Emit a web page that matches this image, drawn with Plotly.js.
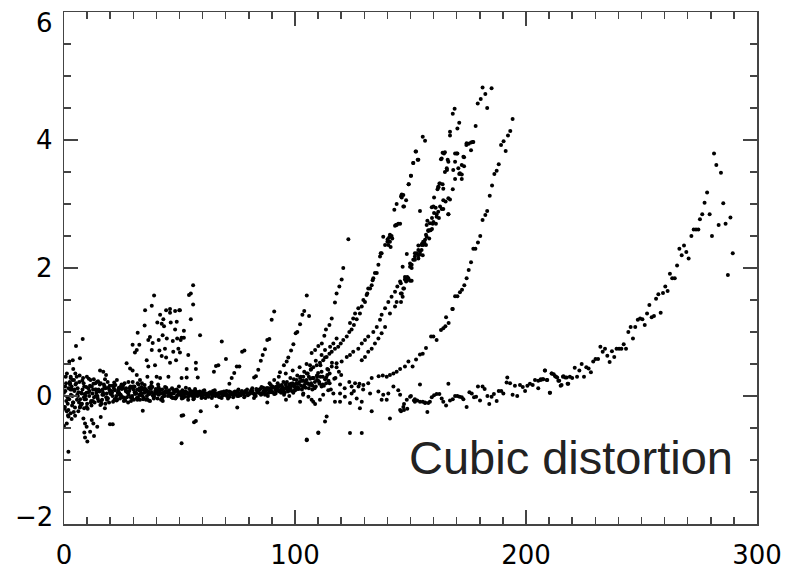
<!DOCTYPE html>
<html>
<head>
<meta charset="utf-8">
<script src="https://cdn.plot.ly/plotly-3.0.1.min.js"></script>
<style>html,body{margin:0;padding:0;background:#fff;}#chart{width:789px;height:573px;}</style>
</head>
<body>
<div id="chart"></div>
<script>
// ---------- data ----------
const xTickVals = [0, 100, 200, 300];
const yTickVals = [-2, 0, 2, 4, 6];
const yTickText = ["\u22122", "0", "2", "4", "6"];
const annotationText = "Cubic distortion";

// dense band near zero, several rows
const bandX1 = [0,1,2,3,4,5,6,7,8,9,10,11,12,13,14,15,16,17,18,19,20,21,22,23,24,25,26,27,28,29,30,31,32,33,34,35,36,37,38,39,40,41,42,43,44,45,46,47,48,49,50,51,52,53,54,55,56,57,58,59,60,61,62,63,64,65,66,67,68,69,70,71,72,73,74,75,76,77,78,79,80,81,82,83,84,85,86,87,88,89,90,91,92,93,94,95,96,97,98,99,100,101,102,103,104,105,106,107,108,109,110,111,112,113,114,115];
const bandY1 = [0.05,-0.08,0.12,0.02,-0.1,0.18,0.0,-0.05,0.1,0.03,-0.12,0.08,0.15,-0.02,0.05,0.1,-0.08,0.02,0.12,-0.04,0.06,
0.0,0.09,-0.06,0.04,0.11,-0.03,0.07,0.02,-0.08,0.1,0.05,-0.02,0.08,0.0,0.12,-0.05,0.03,0.06,-0.01,0.09,
0.02,-0.06,0.05,0.08,0.0,0.04,-0.03,0.07,0.01,0.05,-0.04,0.03,0.06,0.0,0.02,-0.05,0.04,0.01,0.06,-0.02,
0.03,0.0,0.05,-0.03,0.02,0.04,-0.01,0.06,0.01,0.03,-0.04,0.05,0.02,0.07,0.0,0.04,0.08,-0.02,0.05,0.03,
0.09,0.04,0.0,0.07,0.11,0.05,0.02,0.1,0.06,0.13,0.03,0.08,0.15,0.05,0.1,0.18,0.07,0.12,0.2,0.09,
0.14,0.22,0.1,0.17,0.25,0.12,0.2,0.28,0.15,0.24,0.3,0.18,0.26,0.33,0.2];
const bandX2 = [0.5,1.5,2.5,3.5,4.5,5.5,6.5,7.5,8.5,9.5,10.5,11.5,12.5,13.5,14.5,15.5,16.5,17.5,18.5,19.5,20.5,21.5,22.5,23.5,24.5,25.5,26.5,27.5,28.5,29.5,30.5,31.5,32.5,33.5,34.5,35.5,36.5,37.5,38.5,39.5,40.5,41.5,42.5,43.5,44.5,45.5,46.5,47.5,48.5,49.5,50.5,51.5,52.5,53.5,54.5,55.5,56.5,57.5,58.5,59.5,60.5,61.5,62.5,63.5,64.5,65.5,66.5,67.5,68.5,69.5,70.5,71.5,72.5,73.5,74.5,75.5,76.5,77.5,78.5,79.5,80.5,81.5,82.5,83.5,84.5,85.5,86.5,87.5,88.5,89.5,90.5,91.5,92.5,93.5,94.5,95.5,96.5,97.5,98.5,99.5,100.5,101.5,102.5,103.5,104.5,105.5,106.5,107.5,108.5,109.5,110.5,111.5,112.5,113.5,114.5];
const bandY2 = [0.15,-0.02,0.22,-0.15,0.08,0.3,-0.1,0.05,0.2,-0.05,0.12,0.25,-0.08,0.1,0.0,0.18,-0.06,0.14,0.04,-0.1,
0.08,0.16,-0.04,0.1,0.02,0.14,-0.07,0.06,0.12,0.0,0.15,-0.03,0.09,0.04,0.11,-0.06,0.07,0.13,0.01,0.08,
-0.04,0.06,0.1,0.0,0.05,0.09,-0.02,0.04,0.08,0.02,0.06,-0.03,0.07,0.03,0.05,0.0,0.08,0.02,0.04,-0.03,
0.06,0.02,0.0,0.05,0.08,0.01,0.04,-0.02,0.06,0.03,0.0,0.07,0.04,0.02,0.06,0.1,0.01,0.05,0.08,0.03,
0.06,0.12,0.02,0.09,0.05,0.14,0.08,0.03,0.12,0.17,0.06,0.1,0.2,0.08,0.14,0.06,0.22,0.12,0.16,0.26,
0.1,0.19,0.3,0.14,0.22,0.35,0.17,0.28,0.12,0.32,0.22,0.38,0.16,0.29,0.24];
const bandX3 = [0.25,1.25,2.25,3.25,4.25,5.25,6.25,7.25,8.25,9.25,10.25,11.25,12.25,13.25,14.25,15.25,16.25,17.25,18.25,19.25,20.25,21.25,22.25,23.25,24.25,25.25,26.25,27.25,28.25,29.25,30.25,31.25,32.25,33.25,34.25,35.25,36.25,37.25,38.25,39.25,40.25,41.25,42.25,43.25,44.25,45.25,46.25,47.25,48.25,49.25,50.25,51.25,52.25,53.25,54.25,55.25,56.25,57.25,58.25,59.25,60.25,61.25,62.25,63.25,64.25,65.25,66.25,67.25,68.25,69.25,70.25,71.25,72.25,73.25,74.25,75.25,76.25,77.25,78.25,79.25,80.25,81.25,82.25,83.25,84.25,85.25,86.25,87.25,88.25,89.25,90.25,91.25,92.25,93.25,94.25,95.25,96.25,97.25,98.25,99.25,100.25];
const bandY3 = [-0.2,0.35,-0.05,0.1,-0.25,0.2,0.06,-0.15,0.28,0.0,-0.2,0.16,0.04,-0.1,0.22,0.07,-0.12,0.18,-0.02,0.13,
0.03,-0.09,0.17,0.05,-0.04,0.12,0.2,-0.02,0.08,0.14,-0.06,0.04,0.18,0.01,-0.05,0.1,0.06,-0.08,0.14,0.03,
0.07,0.11,-0.05,0.02,0.13,0.06,0.0,0.1,-0.04,0.08,0.03,0.09,-0.01,0.05,0.11,0.02,-0.04,0.07,0.04,0.01,
0.08,-0.03,0.04,0.06,0.0,0.09,0.02,0.05,-0.03,0.07,0.03,0.01,0.06,-0.02,0.04,0.08,0.02,0.06,0.0,0.1,
0.04,0.07,-0.03,0.11,0.05,0.02,0.13,0.08,0.0,0.1,0.15,0.04,0.11,0.07,0.17,0.02,0.13,0.09,0.19,0.05,0.12];
const bandX4 = [0.75,1.75,2.75,3.75,4.75,5.75,6.75,7.75,8.75,9.75,10.75,11.75,12.75,13.75,14.75,15.75,16.75,17.75,18.75,19.75,20.75,21.75,22.75,23.75,24.75,25.75,26.75,27.75,28.75,29.75,30.75,31.75,32.75,33.75,34.75,35.75,36.75,37.75,38.75,39.75,40.75,41.75,42.75,43.75,44.75,45.75,46.75,47.75,48.75,49.75,50.75,51.75,52.75,53.75,54.75,55.75,56.75,57.75,58.75,59.75,60.75];
const bandY4 = [0.3,-0.3,0.1,0.25,-0.18,0.02,0.32,-0.12,0.15,0.05,0.27,-0.08,0.19,0.0,0.23,-0.14,0.1,0.26,-0.03,0.16,
0.06,0.21,-0.07,0.13,0.0,0.18,0.08,-0.1,0.15,0.22,0.03,-0.06,0.12,0.2,0.05,0.09,-0.07,0.16,0.0,0.11,
0.18,0.04,-0.08,0.14,0.07,0.02,0.12,-0.03,0.1,0.15,0.0,0.06,0.13,-0.06,0.08,0.03,0.11,0.0,0.07,0.04,0.09];
const bandX5 = [0.6,1.6,2.6,3.6,4.6,5.6,6.6,7.6,8.6,9.6,10.6,11.6,12.6,13.6,14.6,15.6,16.6,17.6,18.6,19.6,20.6,21.6,22.6,23.6,24.6,25.6,26.6,27.6,28.6,29.6,30.6,31.6,32.6,33.6,34.6,35.6,36.6,37.6,38.6,39.6,40.6,41.6,42.6,43.6,44.6,45.6,46.6,47.6,48.6,49.6,50.6,51.6,52.6,53.6,54.6,55.6,56.6,57.6,58.6,59.6,60.6,61.6,62.6,63.6,64.6,65.6,66.6,67.6,68.6,69.6,70.6,71.6,72.6,73.6,74.6,75.6,76.6,77.6,78.6,79.6,80.6,81.6,82.6,83.6,84.6,85.6,86.6,87.6,88.6,89.6,90.6,91.6,92.6,93.6,94.6,95.6,96.6,97.6,98.6,99.6,100.6,101.6,102.6,103.6,104.6,105.6,106.6,107.6,108.6,109.6,110.6];
const bandY5 = [0.08,-0.12,0.18,0.0,0.1,-0.06,0.22,0.04,-0.02,0.14,0.06,-0.1,0.1,0.2,-0.04,0.08,0.02,0.15,-0.06,0.1,
0.04,0.12,0.0,0.07,0.15,-0.02,0.1,0.05,0.13,-0.04,0.06,0.1,0.02,0.14,-0.03,0.08,0.04,0.11,0.0,0.06,
0.03,0.09,-0.02,0.05,0.07,0.01,0.04,0.08,-0.02,0.03,0.06,0.01,0.05,-0.01,0.04,0.07,0.0,0.03,0.05,0.01,
0.02,0.04,-0.01,0.03,0.05,0.0,0.02,0.04,0.01,0.05,0.02,-0.01,0.03,0.06,0.02,0.0,0.05,0.03,0.07,0.01,
0.04,0.08,0.02,0.06,0.1,0.03,0.08,0.12,0.05,0.09,0.14,0.04,0.11,0.16,0.07,0.12,0.1,0.18,0.08,0.15,
0.2,0.11,0.16,0.24,0.13,0.19,0.27,0.16,0.22,0.3,0.19];
const bandX6 = [0.9,1.9,2.9,3.9,4.9,5.9,6.9,7.9,8.9,9.9,10.9,11.9,12.9,13.9,14.9,15.9,16.9,17.9,18.9,19.9,20.9,21.9,22.9,23.9,24.9,25.9,26.9,27.9,28.9,29.9,30.9,31.9,32.9,33.9,34.9,35.9,36.9,37.9,38.9,39.9,40.9];
const bandY6 = [0.2,-0.22,0.28,-0.1,0.35,0.12,-0.18,0.24,-0.05,0.3,0.0,-0.15,0.26,0.1,-0.08,0.2,0.05,-0.12,0.22,0.08,
0.16,-0.05,0.25,0.02,0.18,-0.08,0.12,0.22,-0.02,0.15,0.05,0.2,-0.06,0.1,0.17,0.0,0.13,0.21,-0.04,0.09,0.14];

// early branches (x < 60)
const earlyX = [39.0,38.0,35.1,34.9,31.9,29.7,32.6,31.5,30.7,37.2,36.5,38.4,38.0,41.6,40.4,42.3,43.3,44.2,45.9,45.9,48.1,49.9,43.0,46.2,48.8,48.1,41.0,42.7,44.5,47.1,49.0,50.5,43.7,41.3,42.3,44.2,47.3,49.5,48.5,45.9,35.8,36.5,39.4,36.1,40.1,41.6,45.2,27.1,28.6,29.7,31.5,32.9,15.6,17.0,18.2,8.1,5.2,6.9,3.8,2.3,4.0,2.9,4.3,2.6,3.3,55.9,54.9,54.1,55.9,54.9,50.2,51.9,50.9,51.9,58.9,50.2,53.8,57.1,57.1,53.1,53.1,57.9,50.9];
const earlyY = [1.57,1.41,1.34,1.10,0.99,0.80,0.80,0.72,0.68,0.92,0.875,0.83,0.72,1.27,1.15,1.13,1.09,1.34,1.36,1.30,1.33,1.34,1.20,1.15,1.16,1.04,0.875,0.95,0.90,0.86,0.90,0.875,0.74,0.71,0.625,0.60,0.69,0.74,0.56,0.52,0.56,0.46,0.48,0.30,0.30,0.28,0.30,0.51,0.43,0.40,0.33,0.25,0.40,0.38,0.33,0.89,0.78,0.59,0.56,0.54,0.42,0.30,0.25,0.20,0.15,1.73,1.60,1.58,1.43,1.20,1.34,1.02,0.91,0.91,0.95,0.68,0.64,0.52,0.42,0.42,0.29,0.29,0.28];

// outliers below the band
const lowX = [0.4,1.2,2.9,1.9,3.3,1.2,0,4.8,6.2,6.9,7.6,8.7,9.8,8.4,9.1,9.8,12.0,12.7,11.3,8.8,9.1,10.1,13.0,14.4,15.9,17.7,19.9,21.1,34.1,50.9,1.9,50.9,57.1,56.3,61.0,51.6,59.2,66.1,75.0,88.0,96.1,105.1,110.1,102.2,107.2,108.7];
const lowY = [-0.17,-0.24,-0.27,-0.32,-0.36,-0.43,-0.47,-0.31,-0.24,-0.17,-0.125,-0.19,-0.17,-0.35,-0.43,-0.48,-0.375,-0.43,-0.56,-0.57,-0.65,-0.71,-0.625,-0.48,-0.33,-0.19,-0.44,-0.44,-0.23,-0.74,-0.87,-0.31,-0.39,-0.41,-0.56,-0.30,-0.24,-0.16,-0.18,-0.10,-0.06,-0.69,-0.57,-0.09,-0.06,-0.125];

// small branches between 60 and 110
const midX = [105.1,104.0,103.2,106.1,102.2,101.0,100.3,99.3,98.3,97.1,96.4,95.2,93.5,91.0,89.9,88.9,88.0,87.0,86.0,85.2,84.1,83.1,82.3,78.1,77.1,75.9,74.8,73.7,72.6,71.6,70.4,69.3,68.3,70.1,66.8,65.8,64.9];
const midY = [1.57,1.33,1.27,1.25,1.12,1.0,0.98,0.81,0.71,0.60,0.54,0.48,0.37,1.32,1.19,0.89,0.875,0.73,0.64,0.55,0.41,0.31,0.29,0.71,0.69,0.46,0.46,0.36,0.28,0.19,0.08,0.03,0.85,0.58,0.48,0.47,0.38];

// steep branch ending near x = 123
const steepX = [123.1,120.9,120.2,119.2,118.0,117.3,115.9,114.9,113.4,112.7,111.6,110.1,108.7,107.2];
const steepY = [2.45,2.0,1.82,1.71,1.60,1.46,1.21,1.11,1.04,0.94,0.82,0.78,0.72,0.67];

// track A (peaks ~4.05 at x ~ 155)
const trackAX = [155.3,156.3,152.2,153.1,151.2,150.2,149.2,146.2,146.2,148.1,147.2,145.5,154.1,152.4,153.4,151.2,150.2,149.2,146.9,145.9,146.9,144.0,143.0,144.7,143.7,141.8,140.8,142.1,140.1,141.1,140.4,141.4,137.1,136.1,134.6,133.6,132.5,131.3,130.3,128.9,128.1,126.7,125.5,124.5,123.5,122.4,120.9,119.8,118.7,117.3,115.9,114.9,113.7,112.2,110.8,109.4,107.9,106.8,105.1,103.6,102.2,100.7,144.0,143.3,141.1,138.2,140.0,139.0,137.5,136.8,135.4,133.9,133.2,131.7,131.0,129.6,127.4,126.0,125.2,123.8,118.0,116.6,115.2,113.0,111.5,106.5];
const trackAY = [4.05,3.99,3.82,3.69,3.64,3.44,3.31,3.15,3.10,3.06,2.96,2.69,2.89,3.82,3.69,3.64,3.44,3.31,3.14,3.12,2.96,3.0,2.91,2.69,2.67,2.5,2.48,2.46,2.45,2.41,2.36,2.33,2.23,2.05,1.92,1.81,1.68,1.60,1.47,1.40,1.29,1.20,1.11,1.04,1.0,0.93,0.875,0.82,0.77,0.74,0.69,0.66,0.61,0.56,0.52,0.48,0.45,0.41,0.35,0.30,0.28,0.25,2.67,2.66,2.52,2.49,2.41,2.36,2.23,2.18,1.92,1.84,1.73,1.68,1.58,1.50,1.37,1.29,1.21,1.14,0.90,0.82,0.77,0.72,0.64,0.48];

// tracks B and C (peaks 4.5 at x ~ 170 and 4.85 at x ~ 182)
const trackBX = [169.1,168.3,171.1,170.3,167.1,167.1,164.9,163.9,163.2,166.1,169.3,170.3,164.9,165.8,162.8,163.9,161.7,162.1,160.2,165.2,167.1,159.2,160.9,163.5,164.2,160.2,161.3,166.4,159.3,162.3,157.3,158.4,159.6,161.0,157.0,157.7,158.7,159.3,158.1,156.3,156.0,156.7,155.0,153.4,154.8,152.7,154.1,151.9,153.4,155.3,151.2,149.8,150.5,148.4,146.6,147.6,149.1,149.8,148.1,150.5,145.8,147.2,146.2,146.6,145.9,157.7,156.7,155.5,154.1,153.4,151.9,149.8,148.6,147.6,145.5,144.3,143.3,141.8,140.4,139.0,137.5,136.8,135.4,133.9,131.7,130.3,128.9,127.4,125.2,123.8,122.4,120.2,118.0,115.9,114.4];
const trackBY = [4.49,4.41,4.27,4.18,4.13,4.07,3.81,3.80,3.70,3.69,3.79,3.79,3.50,3.53,3.32,3.31,3.23,3.26,3.10,3.04,3.07,2.95,2.94,2.92,2.92,2.86,2.84,2.84,2.78,2.78,2.74,2.70,2.69,2.69,2.67,2.58,2.59,2.61,2.46,2.44,2.40,2.36,2.38,2.35,2.28,2.23,2.21,2.18,2.15,2.20,2.13,2.02,2.0,2.22,2.02,1.86,1.84,1.80,1.79,1.80,1.76,1.68,1.60,1.55,1.47,2.59,2.52,2.36,2.25,2.20,2.13,2.07,1.86,1.82,1.79,1.71,1.63,1.55,1.47,1.37,1.27,1.19,1.08,1.0,0.93,0.875,0.82,0.74,0.69,0.64,0.61,0.54,0.51,0.46,0.41];
const trackCX = [181.2,185.1,182.4,180.4,179.1,183.2,178.2,177.2,176.2,175.2,174.2,176.2,173.2,172.2,173.2,171.1,172.2,172.2,169.3,168.3,166.4,176.9,174.3,172.9,170.0,169.3,170.7,168.5,171.4,165.7,166.4,163.5,164.5,162.5,162.0,164.2,166.4,164.2,162.8,162.0,159.9,161.3,159.9,158.4,157.0,155.5,154.8,153.4,151.9,150.5,148.4,146.9,145.8,144.0,143.3,141.1,139.0,137.5,136.1,134.6,133.2,131.7,130.3,128.9];
const trackCY = [4.82,4.81,4.72,4.64,4.57,4.50,4.22,3.97,3.96,3.94,3.92,3.84,3.73,3.61,3.59,3.47,3.46,3.39,3.39,3.23,2.84,3.97,3.95,3.74,3.79,3.66,3.56,3.53,3.48,3.56,3.66,3.71,3.79,3.32,3.27,3.24,3.09,3.06,2.96,2.88,2.96,2.80,2.72,2.59,2.49,2.41,2.36,2.28,2.23,2.05,1.81,1.68,1.60,1.47,1.40,1.29,1.08,0.98,0.90,0.82,0.74,0.69,0.61,0.56];

// track D (peaks ~4.3 at x ~ 194)
const trackDX = [194.2,193.2,192.2,190.3,189.2,191.2,188.2,187.3,186.3,185.3,184.3,183.2,182.4,181.2,180.2,179.2,178.1,177.2,176.2,175.2,174.3,173.3,172.3,171.4,170.3,169.3,168.3,165.4,168.1,166.5,165.1,164.2,163.2,161.3,159.9,158.9,156.7,155.3,154.1,152.4,150.9,149.1,147.6,145.5,144.0,142.6,141.1,139.7,138.0,136.2,133.2,131.7,129.6,127.9,126.0,124.5];
const trackDY = [4.33,4.14,4.07,3.98,3.92,3.83,3.62,3.52,3.47,3.29,3.13,2.89,2.83,2.75,2.5,2.40,2.30,2.30,2.09,1.97,1.84,1.73,1.66,1.62,1.56,1.56,1.36,1.23,1.36,1.14,1.09,1.06,1.03,0.875,0.93,0.93,0.75,0.66,0.65,0.57,0.46,0.54,0.46,0.42,0.38,0.35,0.33,0.30,0.32,0.31,0.28,0.20,0.17,0.19,0.20,0.15];

// flat track (x 100 - 220)
const flatX = [145.9,147.2,148.6,147.2,150.2,151.5,152.9,151.9,154.1,155.3,156.3,157.3,158.4,159.2,160.2,161.3,162.5,163.5,164.2,165.4,166.4,167.1,168.3,169.3,170.3,171.2,172.2,172.9,174.3,175.5,176.5,177.5,178.4,180.1,179.2,181.2,182.1,183.3,184.1,185.1,186.1,187.3,188.2,189.3,190.2,191.9,191.6,193.1,194.2,195.2,196.2,197.4,198.6,199.6,200.6,201.7,202.9,203.9,205.3,206.4,207.5,209.0,205.3,210.4,208.2,211.1,212.6,213.5,214.4,215.4,216.2,217.6,218.3,
149.8,151.9,154.1,156.3,157.7,145.5,146.9,148.4,141.1,137.5,139.7,133.2,128.1,123.8,119.5,117.3,113.7,113.0,110.1,123.8,128.9,105.1,132.5,136.1,138.2,140.4,142.6,144.7,145.5,124.5,126.7,128.9,121.6,119.5,116.6,114.4,112.2,110.8,107.9,105.8,103.6];
const flatY = [-0.24,-0.22,-0.20,-0.125,0,-0.07,-0.07,-0.05,0.18,-0.09,-0.11,-0.25,-0.09,-0.02,0.01,0.03,0.03,-0.04,-0.09,-0.15,0.19,-0.07,-0.05,0,0,-0.01,-0.02,-0.05,-0.17,0.06,0.04,-0.02,-0.01,-0.07,0.15,0.15,0.11,0,-0.125,-0.01,0.03,-0.08,0.08,0.08,0.04,0.29,0.21,0.20,0.02,0.16,0,0.17,0.14,0.08,0.16,0.19,0.17,0.25,0.24,0.26,0.26,0.25,0.12,0.05,0.40,0.35,0.31,0.29,0.24,0.17,0.31,0.29,0.19,
-0.01,-0.09,-0.09,-0.10,-0.11,-0.22,-0.17,-0.06,-0.35,-0.06,-0.06,-0.24,-0.19,-0.11,0.04,-0.09,-0.32,-0.40,-0.58,-0.58,-0.58,-0.68,0.04,0.07,0.02,0.04,0.15,0.09,0.02,0.04,-0.04,-0.09,-0.01,-0.09,0.04,0.09,0.02,-0.06,-0.09,-0.01,0.04];

// track E (rises to ~3.8 at x ~ 281)
const trackEX = [281.4,282.4,284.4,285.4,278.4,277.3,276.3,275.3,279.5,280.5,283.4,286.4,288.5,287.4,289.5,271.6,272.6,273.6,274.6,266.4,268.4,267.4,269.4,270.4,265.4,262.3,263.3,264.4,260.3,261.3,259.3,257.3,256.3,258.3,253.4,252.4,255.4,254.4,251.4,249.4,250.4,248.4,247.3,246.3,245.3,244.3,243.3,242.3,241.3,240.3,239.2,238.2,237.2,236.2,235.2,234.2,233.2,232.2,231.2,230.1,229.1,228.1,227.1,226.1,225.1,224.1,223.1,222.1,221.1,220.0,219.0,218.0,217.0,216.0,215.0,214.0,213.0,212.0,211.1,210.3,209.2,208.2,207.2,206.4];
const trackEY = [3.79,3.61,3.49,3.01,3.18,3.02,2.84,2.76,2.84,2.5,2.67,2.69,2.79,1.89,2.23,2.5,2.60,2.60,2.60,2.30,2.35,2.20,2.25,2.15,2.04,1.91,1.84,1.84,1.71,1.64,1.61,1.59,1.52,1.30,1.42,1.29,1.25,1.23,1.11,1.21,1.20,1.19,1.08,0.90,1.08,1.0,0.74,0.81,0.74,0.74,0.74,0.61,0.70,0.53,0.63,0.74,0.69,0.77,0.58,0.58,0.54,0.37,0.43,0.45,0.30,0.50,0.40,0.30,0.44,0.28,0.30,0.19,0.29,0.30,0.16,0.24,0.30,0.34,0.35,0.05,0.25,0.40,0.26,0.25];

// convergence cluster (x 88 - 130)
const clusterX = [88,89,90,91,92,93,94,95,96,97,98,99,100,101,102,103,104,105,106,107,108,109,110,111,112,113,114,115,116,117,118,119,120,95.5,97.5,99.5,101.5,103.5,105.5,107.5,109.5,111.5,113.5,115.5,117.5,119.5,121.5,123.5,125.5,127.5,129.5];
const clusterY = [0.12,0.2,0.06,0.25,0.15,0.3,0.1,0.22,0.35,0.14,0.28,0.4,0.18,0.32,0.45,0.24,0.38,0.5,0.3,0.42,0.28,0.55,0.36,0.48,0.3,0.6,0.42,0.35,0.52,0.27,0.45,0.38,0.33,0.05,0.0,0.08,0.12,0.02,0.2,0.1,0.25,0.15,0.2,0.1,0.28,0.18,0.12,0.22,0.08,0.15,0.1];

// ---------- chart ----------
const groups = [
  [bandX1, bandY1], [bandX2, bandY2], [bandX3, bandY3], [bandX4, bandY4], [bandX5, bandY5], [bandX6, bandY6],
  [earlyX, earlyY], [lowX, lowY], [midX, midY], [steepX, steepY],
  [trackAX, trackAY], [trackBX, trackBY], [trackCX, trackCY], [trackDX, trackDY],
  [flatX, flatY], [trackEX, trackEY], [clusterX, clusterY]
];
const traces = groups.map(g => ({
  type: 'scatter', mode: 'markers', x: g[0], y: g[1],
  marker: {color: '#000', size: 4, line: {width: 0}},
  hoverinfo: 'skip', showlegend: false
}));

const axisLine = '#444';
const tickFont = {family: 'DejaVu Sans, Liberation Sans, sans-serif', size: 26, color: '#000'};
const yRange = [-2, 6];

// y tick labels drawn as text annotations so the end labels can sit inside the frame (as in the reference)
const yLabelAnnotations = yTickVals.map((v, i) => ({
  text: yTickText[i], xref: 'paper', yref: 'y', x: 0, y: v,
  xanchor: 'right', yanchor: 'middle', xshift: -9,
  yshift: v === yRange[1] ? -11 : (v === yRange[0] ? 7 : 0),
  showarrow: false, font: tickFont
}));

const layout = {
  width: 789, height: 573,
  margin: {l: 64, r: 32, t: 12, b: 49, pad: 0},
  paper_bgcolor: '#fff', plot_bgcolor: '#fff',
  showlegend: false,
  xaxis: {
    range: [0, 300], tickmode: 'array', tickvals: xTickVals,
    ticks: 'inside', ticklen: 14, tickwidth: 1.5, tickcolor: axisLine,
    showline: true, linecolor: axisLine, linewidth: 1.5, mirror: 'allticks',
    showgrid: false, zeroline: false, tickfont: tickFont, ticklabelstandoff: 7,
    ticklabeloverflow: 'allow',
    minor: {dtick: 10, tick0: 0, ticks: 'inside', ticklen: 7, tickwidth: 1.5, tickcolor: axisLine, showgrid: false}
  },
  yaxis: {
    range: yRange, tickmode: 'array', tickvals: yTickVals, showticklabels: false,
    ticks: 'inside', ticklen: 14, tickwidth: 1.5, tickcolor: axisLine,
    showline: true, linecolor: axisLine, linewidth: 1.5, mirror: 'allticks',
    showgrid: false, zeroline: false,
    minor: {dtick: 0.5, tick0: 0, ticks: 'inside', ticklen: 7, tickwidth: 1.5, tickcolor: axisLine, showgrid: false}
  },
  annotations: yLabelAnnotations.concat([{
    text: annotationText, xref: 'paper', yref: 'paper',
    x: 0.968, y: 0.13, xanchor: 'right', yanchor: 'middle', showarrow: false,
    font: {family: 'Liberation Sans, Arial, sans-serif', size: 47, color: '#222'}
  }])
};

Plotly.newPlot('chart', traces, layout, {staticPlot: true, displayModeBar: false});
</script>
</body>
</html>
